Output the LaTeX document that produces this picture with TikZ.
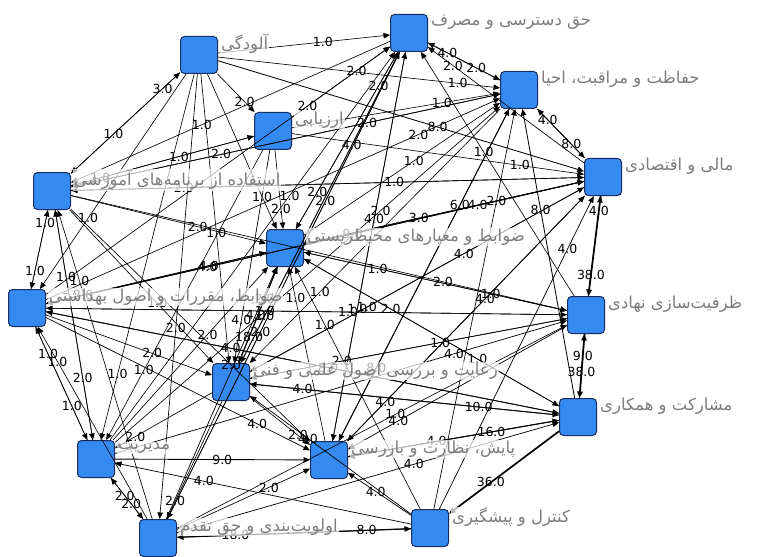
\documentclass[tikz,border=0pt]{standalone}
\usepackage{fontspec}
\usetikzlibrary{arrows.meta,calc}
\TeXXeTstate=1
\newfontfamily\fa[Script=Arabic]{DejaVu Sans}
\newfontfamily\numf{DejaVu Sans}
\definecolor{nodeblue}{RGB}{52,138,240}
\definecolor{nodeedge}{RGB}{25,45,95}
\definecolor{labgray}{RGB}{125,125,125}
\tikzset{
  box/.style={draw=nodeedge,line width=1pt,fill=nodeblue,rounded corners=4pt,minimum width=37pt,minimum height=37pt,inner sep=0pt},
  nlab/.style={anchor=west,text=labgray,font=\fa\fontsize{16.5}{18}\selectfont,inner sep=1pt,fill=white,fill opacity=0.7,text opacity=1},
  edge/.style={draw=black,line width=0.7pt,-{Triangle[length=6.5pt,width=5.5pt]}},
  elab/.style={font=\numf\fontsize{12.5}{14}\selectfont,inner sep=0.5pt,text=black}
}
\begin{document}
\begin{tikzpicture}[x=1pt,y=-1pt]
\useasboundingbox (0,0) rectangle (767,556);
\node[box] (A) at (409,33) {};
\node[box] (B) at (199,55) {};
\node[box] (C) at (519,90) {};
\node[box] (D) at (273,131) {};
\node[box] (E) at (603,177) {};
\node[box] (F) at (52,191) {};
\node[box] (G) at (285,248) {};
\node[box] (H) at (27,308) {};
\node[box] (I) at (586,315) {};
\node[box] (J) at (231,382) {};
\node[box] (K) at (578,417) {};
\node[box] (L) at (96,459) {};
\node[box] (M) at (329,460) {};
\node[box] (N) at (430,528) {};
\node[box] (O) at (158,538) {};
\foreach \s/\t/\w [count=\i] in {
B/A/1.0, A/C/2.0, C/A/4.0, B/G/1.0, B/C/1.0, B/E/8.0, D/A/2.0, D/C/1.0, D/E/1.0, F/B/3.0,
F/D/1.0, F/G/2.0, G/I/1.0, F/H/1.0, H/F/1.0, H/I/1.0, H/J/2.0, H/L/1.0, L/H/1.0, O/H/1.0,
O/L/2.0, L/O/2.0, O/M/2.0, N/O/18.0, O/N/8.0, N/M/4.0, K/N/36.0, M/K/16.0, J/K/10.0, J/M/2.0,
L/M/9.0, L/G/2.0, J/G/2.0, G/J/18.0, E/I/38.0, I/E/4.0, I/K/38.0, K/I/9.0, C/E/8.0, E/C/4.0,
E/A/2.0, I/A/1.0, K/C/8.0, M/C/6.0, N/C/2.0, N/E/4.0, M/E/4.0, J/E/4.0, J/A/4.0, H/A/2.0,
H/C/2.0, H/E/9.0, F/E/1.0, F/C/2.0, F/I/2.0, G/A/2.0, G/C/1.0, G/E/4.0, G/K/1.0, D/G/2.0,
D/J/4.0, B/J/1.0, B/F/1.0, B/H/1.0, B/D/2.0, A/G/2.0, A/J/1.0, A/O/2.0, A/M/1.0, C/J/1.0,
C/M/8.0, E/M/4.0, E/G/3.0, E/J/1.0, I/J/2.0, I/M/4.0, K/J/4.0, K/M/4.0, N/J/4.0, N/L/4.0,
N/G/1.0, M/G/1.0, M/A/4.0, L/A/1.0, L/C/2.0, L/I/4.0, O/G/4.0, O/I/1.0, O/K/4.0, O/A/2.0,
H/G/4.0, H/M/4.0, H/K/8.0, F/J/1.0, F/M/2.0, F/L/2.0, J/L/2.0, J/O/2.0, J/I/1.0, K/G/2.0,
I/G/1.0, E/F/2.0, D/F/1.0, A/F/1.0, C/F/2.0, L/F/1.0, O/F/1.0, G/H/2.0, I/H/1.0, K/H/4.0,
E/H/4.0, D/L/1.0, B/L/1.0, B/O/2.0}
{
  \pgfmathsetmacro{\p}{0.55+mod(\i*37,31)/100}
  \pgfmathsetmacro{\lw}{0.6+\w*0.03}
  \draw[edge,line width=\lw pt] (\s) -- node[elab,pos=\p] (l\i) {\w} (\t);
}
\node[nlab] (tA) at ($(A.north east)+(2,8)$) {\fa\beginR حق دسترسی و مصرف\endR};
\node[nlab] (tB) at ($(B.north east)+(2,8)$) {\fa\beginR آلودگی\endR};
\node[nlab] (tC) at ($(C.north east)+(2,8)$) {\fa\beginR حفاظت و مراقبت، احیا\endR};
\node[nlab] (tD) at ($(D.north east)+(2,8)$) {\fa\beginR ارزیابی\endR};
\node[nlab] (tE) at ($(E.north east)+(2,8)$) {\fa\beginR مالی و اقتصادی\endR};
\node[nlab] (tF) at ($(F.north east)+(2,8)$) {\fa\beginR استفاده از برنامه‌های آموزشی\endR};
\node[nlab] (tG) at ($(G.north east)+(2,8)$) {\fa\beginR ضوابط و معیارهای محیطزیستی\endR};
\node[nlab] (tH) at ($(H.north east)+(2,8)$) {\fa\beginR ضوابط، مقررات و اصول بهداشتی\endR};
\node[nlab] (tI) at ($(I.north east)+(2,8)$) {\fa\beginR ظرفیت‌سازی نهادی\endR};
\node[nlab] (tJ) at ($(J.north east)+(2,8)$) {\fa\beginR رعایت و بررسی اصول علمی و فنی\endR};
\node[nlab] (tK) at ($(K.north east)+(2,8)$) {\fa\beginR مشارکت و همکاری\endR};
\node[nlab] (tL) at ($(L.north east)+(2,8)$) {\fa\beginR مدیریت\endR};
\node[nlab] (tM) at ($(M.north east)+(2,8)$) {\fa\beginR پایش، نظارت و بازرسی\endR};
\node[nlab] (tN) at ($(N.north east)+(2,8)$) {\fa\beginR کنترل و پیشگیری\endR};
\node[nlab] (tO) at ($(O.north east)+(2,8)$) {\fa\beginR اولویت‌بندی و حق تقدم\endR};
\end{tikzpicture}
\end{document}
